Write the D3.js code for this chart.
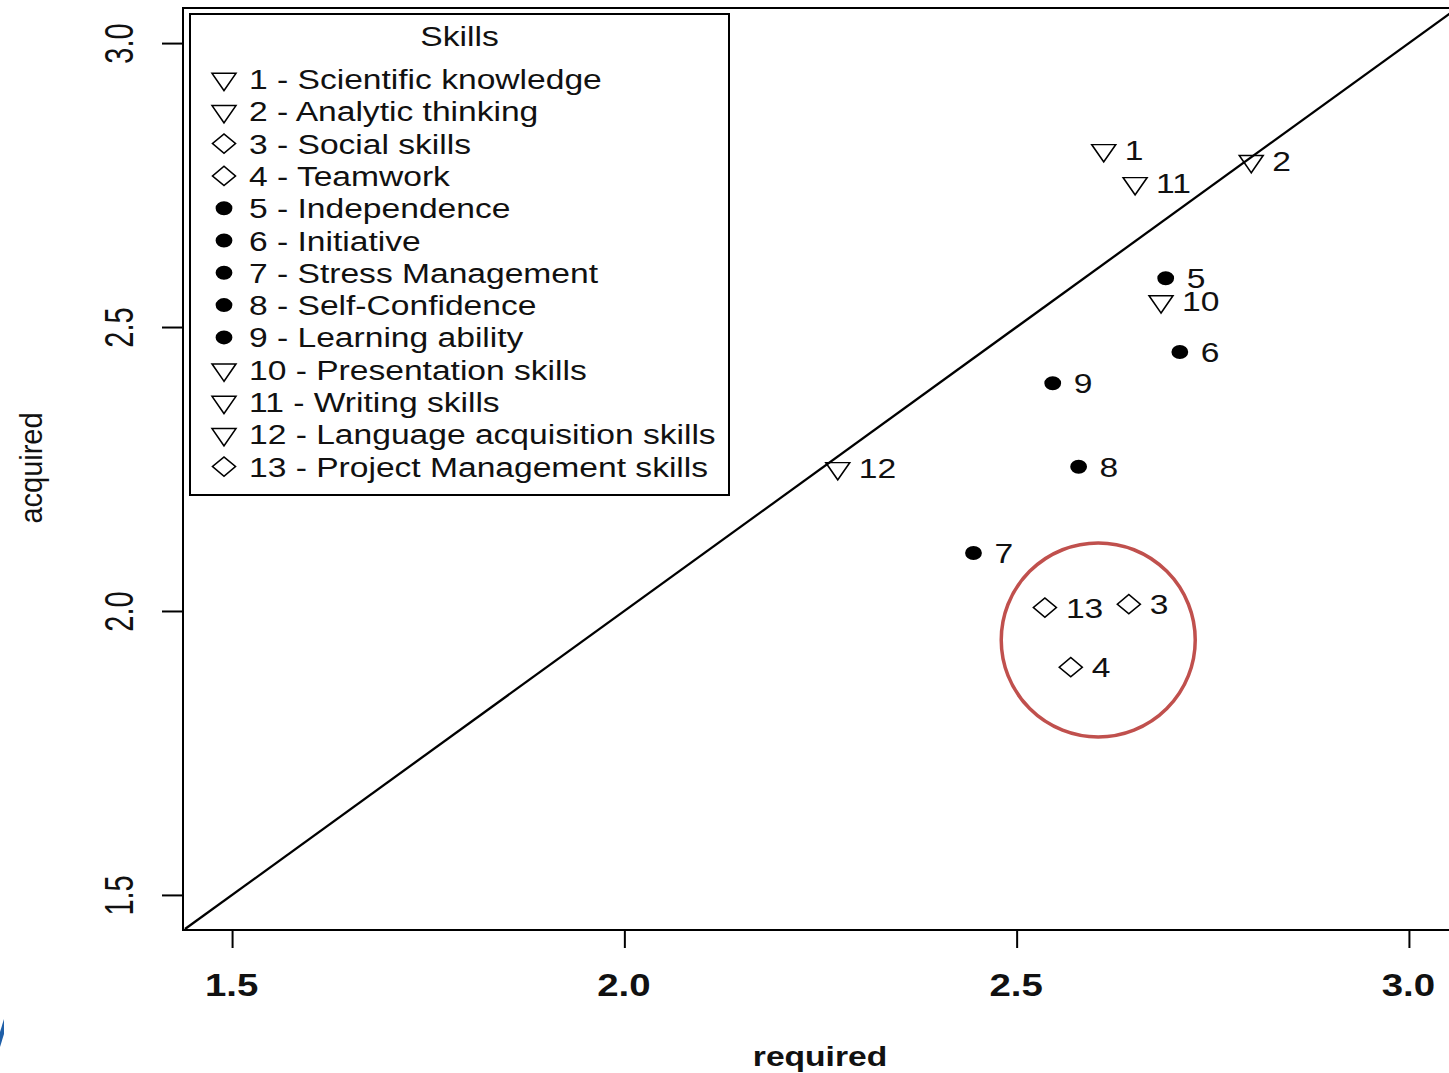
<!DOCTYPE html>
<html>
<head>
<meta charset="utf-8">
<script src="https://cdn.jsdelivr.net/npm/d3@7"></script>
<style>
  html, body { margin: 0; padding: 0; background: #fff; }
  svg { display: block; font-family: "Liberation Sans", Arial, sans-serif; }
</style>
</head>
<body>
<svg id="chart" width="1449" height="1073"></svg>
<script>
// ---- data ----
const skillIds = [1, 2, 3, 4, 5, 6, 7, 8, 9, 10, 11, 12, 13];
const skillNames = [
  "Scientific knowledge", "Analytic thinking", "Social skills", "Teamwork",
  "Independence", "Initiative", "Stress Management", "Self-Confidence",
  "Learning ability", "Presentation skills", "Writing skills",
  "Language acquisition skills", "Project Management skills"
];
const skillGroup = ["tri", "tri", "dia", "dia", "dot", "dot", "dot", "dot", "dot", "tri", "tri", "tri", "dia"];
const requiredVals = [2.611, 2.799, 2.643, 2.569, 2.690, 2.708, 2.445, 2.579, 2.546, 2.684, 2.651, 2.272, 2.536];
const acquiredVals = [2.811, 2.792, 2.012, 1.901, 2.586, 2.456, 2.102, 2.254, 2.401, 2.545, 2.753, 2.251, 2.006];
const xTicks = [1.5, 2.0, 2.5, 3.0];
const yTicks = [1.5, 2.0, 2.5, 3.0];
const axisDomain = [1.44, 3.06];
const highlight = { x: 2.604, y: 1.949 }; // red circled group

const svg = d3.select("#chart");
const SX = 1.2; // horizontal stretch seen in the reference
const ink = "#111";

const x = d3.scaleLinear().domain(axisDomain).range([185, 1456]);
const y = d3.scaleLinear().domain(axisDomain).range([929, 9]);

// plot frame
svg.append("rect").attr("x", 183).attr("y", 8).attr("width", 1274).attr("height", 922)
  .attr("fill", "none").attr("stroke", "#000").attr("stroke-width", 2);

// diagonal y = x
svg.append("path")
  .datum([axisDomain[0], axisDomain[1]])
  .attr("d", d3.line().x(d => x(d)).y(d => y(d)))
  .attr("stroke", "#000").attr("stroke-width", 2.3).attr("fill", "none");

// x axis
const gx = svg.append("g").attr("transform", "translate(0,930)")
  .call(d3.axisBottom(x).tickValues(xTicks).tickSize(18).tickFormat(d3.format(".1f")));
gx.select(".domain").remove();
gx.selectAll(".tick line").attr("stroke", "#000").attr("stroke-width", 2);
gx.selectAll(".tick text").remove();
gx.selectAll(".tick").append("text")
  .attr("transform", `translate(-1,66) scale(${SX},1)`)
  .attr("text-anchor", "middle").attr("fill", ink)
  .style("font-size", "32px").style("font-weight", "bold")
  .text(d => d3.format(".1f")(d));

// y axis
const gy = svg.append("g").attr("transform", "translate(183,0)")
  .call(d3.axisLeft(y).tickValues(yTicks).tickSize(21).tickFormat(d3.format(".1f")));
gy.select(".domain").remove();
gy.selectAll(".tick line").attr("stroke", "#000").attr("stroke-width", 2);
gy.selectAll(".tick text").remove();
gy.selectAll(".tick").append("text")
  .attr("transform", `translate(-50,0) scale(1.4,1) rotate(-90)`)
  .attr("text-anchor", "middle").attr("fill", ink)
  .style("font-size", "29px")
  .text(d => d3.format(".1f")(d));

// axis titles
svg.append("text")
  .attr("transform", `translate(820,1066) scale(${SX},1)`)
  .attr("text-anchor", "middle").attr("fill", ink)
  .style("font-size", "28px").style("font-weight", "bold")
  .text("required");
svg.append("text")
  .attr("transform", `translate(42,468) scale(1.1,1) rotate(-90)`)
  .attr("text-anchor", "middle").attr("fill", ink)
  .style("font-size", "29px")
  .text("acquired");

// symbol generators
const symFor = g => {
  if (g === "tri") return d3.symbol().type(d3.symbolTriangle).size(173)();
  if (g === "dia") return d3.symbol().type(d3.symbolSquare).size(185)();
  return d3.symbol().type(d3.symbolCircle).size(154)();
};
const rotFor = g => g === "tri" ? 180 : (g === "dia" ? 45 : 0);
const drawSym = (sel, g) => sel
  .attr("d", symFor(g))
  .attr("fill", g === "dot" ? "#000" : "none")
  .attr("stroke", "#000")
  .attr("stroke-width", g === "dot" ? 0 : 1.4);

// points
const pts = skillIds.map((id, i) => ({ id, g: skillGroup[i], xv: requiredVals[i], yv: acquiredVals[i] }));
const pg = svg.append("g");
pts.forEach(p => {
  const px = x(p.xv), py = y(p.yv);
  pg.append("path").call(drawSym, p.g)
    .attr("transform", `translate(${px},${py}) scale(${SX},1) rotate(${rotFor(p.g)})`);
  pg.append("text")
    .attr("transform", `translate(${px + 21},${py + 10}) scale(${SX},1)`)
    .attr("fill", ink).style("font-size", "28px")
    .text(p.id);
});

// red highlight circle
svg.append("circle")
  .attr("cx", x(highlight.x)).attr("cy", y(highlight.y)).attr("r", 97)
  .attr("fill", "none").attr("stroke", "#C0504D").attr("stroke-width", 3.5);

// legend
const lg = svg.append("g");
lg.append("rect").attr("x", 190).attr("y", 14).attr("width", 539).attr("height", 481)
  .attr("fill", "#fff").attr("stroke", "#000").attr("stroke-width", 2);
lg.append("text")
  .attr("transform", `translate(459.5,46) scale(${SX},1)`)
  .attr("text-anchor", "middle").attr("fill", ink).style("font-size", "28px")
  .text("Skills");
skillIds.forEach((id, i) => {
  const cy = 79 + i * 32.3;
  lg.append("path").call(drawSym, skillGroup[i])
    .attr("transform", `translate(224,${cy}) scale(${SX},1) rotate(${rotFor(skillGroup[i])})`);
  lg.append("text")
    .attr("transform", `translate(249,${cy + 10}) scale(${SX},1)`)
    .attr("fill", ink).style("font-size", "28px")
    .text(`${id} - ${skillNames[i]}`);
});

// small blue mark at bottom-left edge of the reference image
svg.append("path")
  .attr("d", "M0,1047 L0,1032 L4,1019 L4,1034 Z")
  .attr("fill", "#1f5fa8");
</script>
</body>
</html>
